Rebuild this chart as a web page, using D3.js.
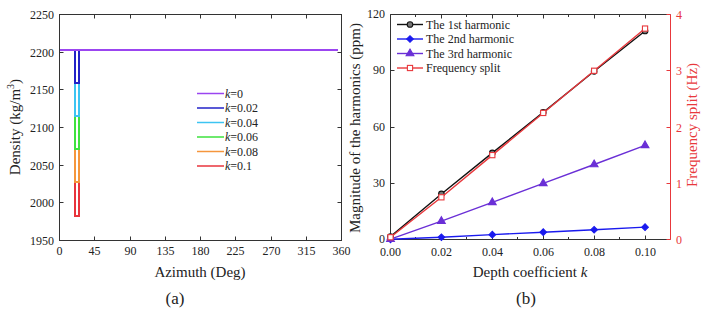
<!DOCTYPE html>
<html><head><meta charset="utf-8">
<script src="https://cdn.jsdelivr.net/npm/d3@7"></script>
<style>
html,body{margin:0;padding:0;background:#fff;}
text{font-family:'Liberation Serif','Times New Roman','DejaVu Serif',serif;}
</style></head>
<body><svg id="c" width="708" height="313" font-family="'Liberation Serif','Times New Roman','DejaVu Serif',serif"></svg>
<script>
// ---------- Data: panel (a) ----------
const kLabels = ["0", "0.02", "0.04", "0.06", "0.08", "0.1"];
const kColors = ["#9b45f0", "#2222c8", "#3cc4f2", "#3ee23e", "#f5963c", "#e8343c"];
const baseDensity = 2203;
const dipDensity = [2203, 2159, 2115, 2071, 2027, 1983];
const azimuthBreaks = [0, 20, 25.5, 355];
const azTicks = [0, 45, 90, 135, 180, 225, 270, 315, 360];
const densTicks = [1950, 2000, 2050, 2100, 2150, 2200, 2250];

// ---------- Data: panel (b) ----------
const depthK = [0, 0.02, 0.04, 0.06, 0.08, 0.10];
const harm1 = [1.6, 24.3, 46.2, 67.8, 89.7, 111.2];
const harm2 = [0.1, 1.2, 2.6, 3.9, 5.2, 6.6];
const harm3 = [0.2, 9.8, 19.8, 29.9, 40.0, 50.2];
const freqSplit = [0.04, 0.75, 1.5, 2.25, 3.0, 3.75];
const kTicks = [0, 0.02, 0.04, 0.06, 0.08, 0.10];
const magTicks = [0, 30, 60, 90, 120];
const fsTicks = [0, 1, 2, 3, 4];
const bSeries = ["The 1st harmonic", "The 2nd harmonic", "The 3rd harmonic", "Frequency split"];

const FONT = "'Liberation Serif','Times New Roman','DejaVu Serif',serif";
const svg = d3.select("#c");
const TL = 4;
function frame(g, x0, x1, y0, y1, col) {
  g.append("rect").attr("x", x0).attr("y", y0).attr("width", x1 - x0).attr("height", y1 - y0)
    .attr("fill", "none").attr("stroke", col || "#333").attr("stroke-width", 1);
}
function txt(g) { return g.append("text").attr("font-family", FONT); }

// ================= Panel (a) =================
(function () {
  const x = d3.scaleLinear().domain([0, 360]).range([59.5, 341.5]);
  const y = d3.scaleLinear().domain([1950, 2250]).range([240.5, 14.5]);
  const g = svg.append("g");
  frame(g, 59.5, 341.5, 14.5, 240.5);
  const ax = g.append("g").attr("font-size", 12).attr("fill", "#222");
  azTicks.forEach(t => {
    const px = Math.round(x(t) - 0.5) + 0.5;
    ax.append("line").attr("x1", px).attr("x2", px).attr("y1", 240.5).attr("y2", 240.5 - TL).attr("stroke", "#333");
    ax.append("line").attr("x1", px).attr("x2", px).attr("y1", 14.5).attr("y2", 14.5 + TL).attr("stroke", "#333");
    txt(ax).attr("x", px).attr("y", 255).attr("text-anchor", "middle").text(t);
  });
  densTicks.forEach(t => {
    const py = Math.round(y(t) - 0.5) + 0.5;
    ax.append("line").attr("x1", 59.5).attr("x2", 59.5 + TL).attr("y1", py).attr("y2", py).attr("stroke", "#333");
    ax.append("line").attr("x1", 341.5).attr("x2", 341.5 - TL).attr("y1", py).attr("y2", py).attr("stroke", "#333");
    txt(ax).attr("x", 54).attr("y", py + 4).attr("text-anchor", "end").text(t);
  });
  const line = d3.line().x(d => x(d[0])).y(d => y(d[1]));
  for (let i = kLabels.length - 1; i >= 0; i--) {
    const [a0, a1, a2, a3] = azimuthBreaks;
    const pts = [[a0, baseDensity], [a1, baseDensity], [a1, dipDensity[i]], [a2, dipDensity[i]], [a2, baseDensity], [a3, baseDensity]];
    g.append("path").attr("d", line(pts)).attr("fill", "none").attr("stroke", kColors[i])
      .attr("stroke-width", 2).attr("shape-rendering", "crispEdges");
  }
  const lg = g.append("g").attr("font-size", 12);
  kLabels.forEach((lab, i) => {
    const ly = 93.5 + i * 14.5;
    lg.append("line").attr("x1", 197).attr("x2", 224).attr("y1", ly).attr("y2", ly).attr("stroke", kColors[i]).attr("stroke-width", 1.5);
    const t = txt(lg).attr("x", 225).attr("y", ly + 4).attr("fill", "#222");
    t.append("tspan").attr("font-style", "italic").text("k");
    t.append("tspan").text("=" + lab);
  });
  txt(g).attr("x", 200).attr("y", 277).attr("text-anchor", "middle").attr("font-size", 15).attr("fill", "#222").text("Azimuth (Deg)");
  const yt = txt(g).attr("transform", "translate(20,127) rotate(-90)").attr("text-anchor", "middle").attr("font-size", 15).attr("fill", "#222");
  yt.append("tspan").text("Density (kg/m");
  yt.append("tspan").attr("font-size", 10).attr("dy", -6).text("3");
  yt.append("tspan").attr("dy", 6).text(")");
  txt(g).attr("x", 175).attr("y", 304).attr("text-anchor", "middle").attr("font-size", 17).attr("fill", "#222").text("(a)");
})();

// ================= Panel (b) =================
(function () {
  const X0 = 390.5, X1 = 670.5, Y0 = 14.5, Y1 = 239.5;
  const x = d3.scaleLinear().domain([0, 0.11]).range([X0, X1]);
  const y = d3.scaleLinear().domain([0, 120]).range([Y1, Y0]);
  const y2 = d3.scaleLinear().domain([0, 4]).range([Y1, Y0]);
  const red = "#e8383c";
  const g = svg.append("g");
  g.append("path").attr("d", `M${X1},${Y0}H${X0}V${Y1}H${X1}`).attr("fill", "none").attr("stroke", "#333");
  g.append("line").attr("x1", X1).attr("x2", X1).attr("y1", Y0).attr("y2", Y1).attr("stroke", red);
  const ax = g.append("g").attr("font-size", 12);
  kTicks.forEach(t => {
    const px = Math.round(x(t) - 0.5) + 0.5;
    ax.append("line").attr("x1", px).attr("x2", px).attr("y1", Y1).attr("y2", Y1 - TL).attr("stroke", "#333");
    ax.append("line").attr("x1", px).attr("x2", px).attr("y1", Y0).attr("y2", Y0 + TL).attr("stroke", "#333");
    txt(ax).attr("x", px).attr("y", 256).attr("text-anchor", "middle").attr("fill", "#222").text(d3.format(".2f")(t));
  });
  d3.range(0.01, 0.11, 0.02).forEach(t => {
    const px = Math.round(x(t) - 0.5) + 0.5;
    ax.append("line").attr("x1", px).attr("x2", px).attr("y1", Y1).attr("y2", Y1 - 2.5).attr("stroke", "#333");
    ax.append("line").attr("x1", px).attr("x2", px).attr("y1", Y0).attr("y2", Y0 + 2.5).attr("stroke", "#333");
  });
  magTicks.forEach(t => {
    const py = Math.round(y(t) - 0.5) + 0.5;
    ax.append("line").attr("x1", X0).attr("x2", X0 + TL).attr("y1", py).attr("y2", py).attr("stroke", "#333");
    txt(ax).attr("x", 385).attr("y", py + 3).attr("text-anchor", "end").attr("fill", "#222").text(t);
  });
  fsTicks.forEach(t => {
    const py = Math.round(y2(t) - 0.5) + 0.5;
    ax.append("line").attr("x1", X1).attr("x2", X1 - TL).attr("y1", py).attr("y2", py).attr("stroke", red);
    txt(ax).attr("x", 676).attr("y", py + 4).attr("text-anchor", "start").attr("fill", red).text(t);
  });

  const cols = ["#111", "#1a1aee", "#6a2fd6", red];
  const fills = ["#777", "#1a1aee", "#6a2fd6", "#fff"];
  const data = [harm1, harm2, harm3, freqSplit];
  const scales = [y, y, y, y2];
  function drawMarker(gg, i, px, py) {
    let p;
    if (i === 0) p = gg.append("circle").attr("cx", px).attr("cy", py).attr("r", 2.8);
    else if (i === 1) p = gg.append("path").attr("d", d3.symbol().type(d3.symbolSquare).size(22)()).attr("transform", `translate(${px},${py}) rotate(45)`);
    else if (i === 2) p = gg.append("path").attr("d", d3.symbol().type(d3.symbolTriangle).size(26)()).attr("transform", `translate(${px},${py})`);
    else p = gg.append("rect").attr("x", px - 2.6).attr("y", py - 2.6).attr("width", 5.2).attr("height", 5.2);
    p.attr("fill", fills[i]).attr("stroke", cols[i]).attr("stroke-width", 1.1);
  }
  [0, 1, 2, 3].forEach(i => {
    const line = d3.line().x((d, j) => x(depthK[j])).y(d => scales[i](d));
    g.append("path").attr("d", line(data[i])).attr("fill", "none").attr("stroke", cols[i]).attr("stroke-width", 1.4);
    data[i].forEach((v, j) => drawMarker(g, i, x(depthK[j]), scales[i](v)));
  });
  const lg = g.append("g").attr("font-size", 12);
  bSeries.forEach((s, i) => {
    const ly = 24.5 + i * 14.5;
    lg.append("line").attr("x1", 397).attr("x2", 423).attr("y1", ly).attr("y2", ly).attr("stroke", cols[i]).attr("stroke-width", 1.4);
    drawMarker(lg, i, 410, ly);
    txt(lg).attr("x", 426).attr("y", ly + 4).attr("fill", "#222").text(s);
  });
  const xt = txt(g).attr("x", 530).attr("y", 277).attr("text-anchor", "middle").attr("font-size", 15).attr("fill", "#222");
  xt.append("tspan").text("Depth coefficient ");
  xt.append("tspan").attr("font-style", "italic").text("k");
  txt(g).attr("transform", "translate(360,128) rotate(-90)").attr("text-anchor", "middle").attr("font-size", 15).attr("fill", "#222").text("Magnitude of the harmonics (ppm)");
  txt(g).attr("transform", "translate(697,125) rotate(-90)").attr("text-anchor", "middle").attr("font-size", 15).attr("fill", red).text("Frequency split (Hz)");
  txt(g).attr("x", 526).attr("y", 304).attr("text-anchor", "middle").attr("font-size", 17).attr("fill", "#222").text("(b)");
})();
</script></body></html>
